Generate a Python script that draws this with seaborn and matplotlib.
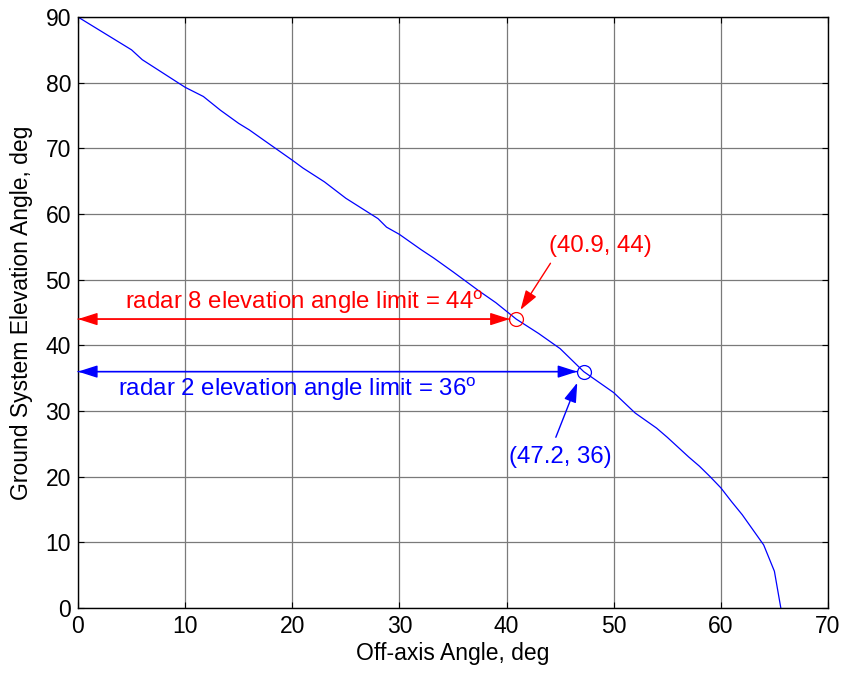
import matplotlib
matplotlib.use("Agg")
import matplotlib.pyplot as plt
import seaborn as sns
import pandas as pd

off_axis = [0, 5, 6, 10, 11.7, 13.3, 15, 16, 17.3, 20, 21, 23, 25, 28, 28.8, 30, 32, 33.2, 35,
            37.5, 39, 40.9, 43, 45, 47.2, 50, 52, 54, 55, 57, 58, 59, 60, 61, 62, 63, 64, 65, 65.6]
elevation = [90, 85.0, 83.5, 79.3, 77.9, 75.8, 73.8, 72.8, 71.3, 68.2, 67.0, 64.9, 62.4, 59.3, 58.0,
             56.9, 54.6, 53.3, 51.2, 48.2, 46.5, 44.0, 41.8, 39.5, 36.0, 32.8, 29.7, 27.4, 26.0,
             23.0, 21.6, 20.0, 18.3, 16.2, 14.2, 11.9, 9.6, 5.6, 0]

radar8_pt = (40.9, 44)
radar2_pt = (47.2, 36)
radar8_text = "radar 8 elevation angle limit = 44$^\\mathregular{o}$"
radar2_text = "radar 2 elevation angle limit = 36$^\\mathregular{o}$"
x_ticks = [0, 10, 20, 30, 40, 50, 60, 70]
y_ticks = [0, 10, 20, 30, 40, 50, 60, 70, 80, 90]

sns.set_theme(style="white")
plt.rcParams['font.family'] = ['Liberation Sans', 'DejaVu Sans']
plt.rcParams['mathtext.fontset'] = 'custom'
plt.rcParams['mathtext.rm'] = 'Liberation Sans'
plt.rcParams['text.color'] = 'black'
plt.rcParams['axes.labelcolor'] = 'black'

df = pd.DataFrame({"x": off_axis, "y": elevation})

fig = plt.figure(figsize=(8.44, 6.73), dpi=100)
ax = fig.add_axes([0.0924, 0.0966, 0.8886, 0.8781])
sns.lineplot(data=df, x="x", y="y", ax=ax, color="blue", linewidth=0.9, sort=False, estimator=None)

ax.set_xlim(0, 70)
ax.set_ylim(0, 90)
ax.set_xticks(x_ticks)
ax.set_yticks(y_ticks)
ax.grid(True, color="#7a7a7a", linewidth=0.9)
ax.set_axisbelow(True)
for s in ax.spines.values():
    s.set_color("black")
    s.set_linewidth(1.0)
    s.set_visible(True)
ax.tick_params(direction="in", length=4, width=0.8, top=True, right=True, bottom=True, left=True,
               labelsize=16.5, colors="black", pad=5)
ax.set_xlabel("Off-axis Angle, deg", fontsize=16.5, labelpad=3, color="black")
ax.set_ylabel("Ground System Elevation Angle, deg", fontsize=16.5, labelpad=9, color="black")

fs = 17.3
hs = "-|>,head_length=1.0,head_width=0.32"
# red
ax.annotate("", xy=(0, radar8_pt[1]), xytext=(radar8_pt[0] - 0.6, radar8_pt[1]),
            arrowprops=dict(arrowstyle=hs, color="red", lw=1.0, shrinkA=0, shrinkB=0))
ax.annotate("", xy=(radar8_pt[0] - 0.6, radar8_pt[1]), xytext=(0, radar8_pt[1]),
            arrowprops=dict(arrowstyle=hs, color="red", lw=1.0, shrinkA=0, shrinkB=0))
ax.plot([radar8_pt[0]], [radar8_pt[1]], marker="o", markersize=10, markerfacecolor="none",
        markeredgecolor="red", markeredgewidth=0.9)
ax.text(21.1, 46.6, radar8_text, color="red", fontsize=fs, ha="center", va="center")
ax.annotate("", xy=(41.3, 45.4), xytext=(44.1, 52.5),
            arrowprops=dict(arrowstyle=hs, color="red", lw=1.0, shrinkA=0, shrinkB=0))
ax.text(48.8, 55.2, "(40.9, 44)", color="red", fontsize=fs, ha="center", va="center")

# blue
ax.annotate("", xy=(0, radar2_pt[1]), xytext=(radar2_pt[0] - 0.6, radar2_pt[1]),
            arrowprops=dict(arrowstyle=hs, color="blue", lw=1.0, shrinkA=0, shrinkB=0))
ax.annotate("", xy=(radar2_pt[0] - 0.6, radar2_pt[1]), xytext=(0, radar2_pt[1]),
            arrowprops=dict(arrowstyle=hs, color="blue", lw=1.0, shrinkA=0, shrinkB=0))
ax.plot([radar2_pt[0]], [radar2_pt[1]], marker="o", markersize=10, markerfacecolor="none",
        markeredgecolor="blue", markeredgewidth=0.9)
ax.text(20.5, 33.4, radar2_text, color="blue", fontsize=fs, ha="center", va="center")
ax.annotate("", xy=(46.6, 34.3), xytext=(44.6, 26.0),
            arrowprops=dict(arrowstyle=hs, color="blue", lw=1.0, shrinkA=0, shrinkB=0))
ax.text(45.0, 23.0, "(47.2, 36)", color="blue", fontsize=fs, ha="center", va="center")

fig.savefig("out.png", dpi=100, facecolor="white")
